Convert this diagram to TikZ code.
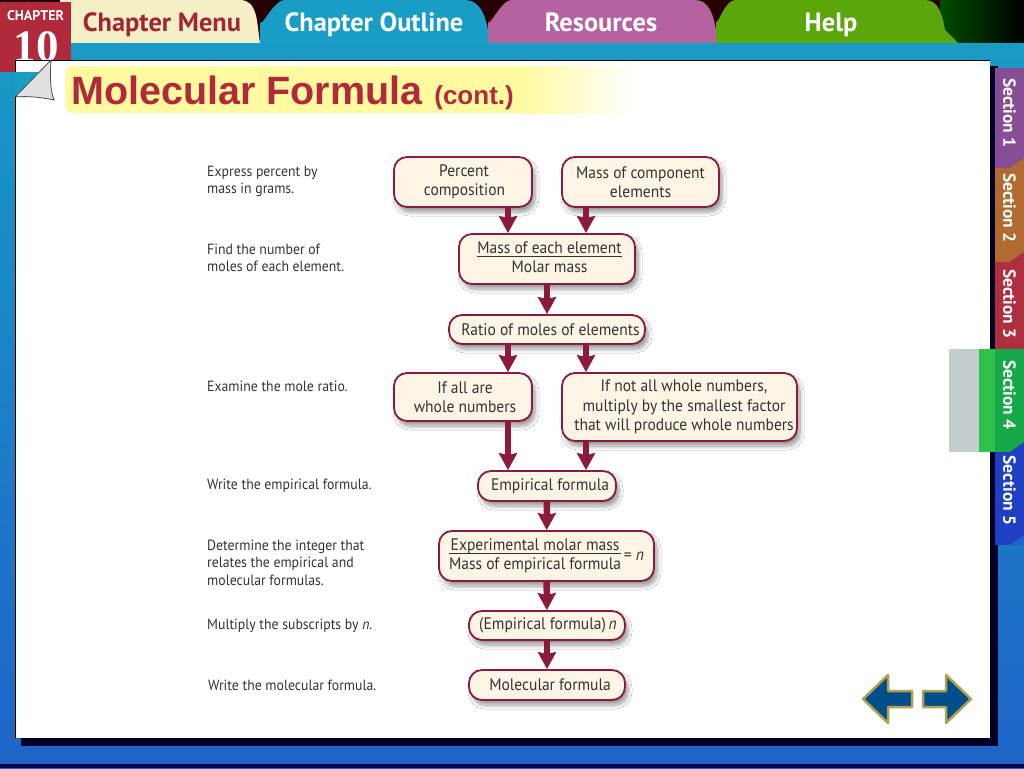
\documentclass[tikz,border=0pt]{standalone}
\usepackage{xcolor}
\usepackage{fontspec}
\setmainfont[FakeStretch=0.93]{PT Sans}
\newfontfamily\tabfont{PT Sans}
\newfontfamily\titlefont{Liberation Sans}
\newfontfamily\numfont{Liberation Serif}
\usepackage{tikz}
\usetikzlibrary{arrows.meta, positioning, shadows.blur, calc}
\definecolor{slideWine}{RGB}{140,26,60}
\definecolor{slideCream}{RGB}{252,245,230}
\definecolor{slideTitle}{RGB}{176,42,60}
\definecolor{slideTeal}{RGB}{24,158,196}
\definecolor{slideBlue}{RGB}{30,100,200}
\definecolor{slideYellow}{RGB}{255,249,160}
\definecolor{tabCream}{RGB}{245,239,197}
\definecolor{tabPurple}{RGB}{181,98,159}
\definecolor{tabGreen}{RGB}{91,166,10}
\definecolor{secPurple}{RGB}{135,78,150}
\definecolor{secOrange}{RGB}{176,106,50}
\definecolor{secRed}{RGB}{174,48,64}
\definecolor{secGreen}{RGB}{23,168,74}
\definecolor{secLight}{RGB}{50,190,75}
\definecolor{secBlue}{RGB}{32,64,196}
\definecolor{secGrey}{RGB}{194,206,208}
\definecolor{navBlue}{RGB}{0,78,138}
\definecolor{navGold}{RGB}{176,160,80}
\begin{document}
\begin{tikzpicture}[x=1pt, y=-1pt,
    flowbox/.style={rectangle, draw=slideWine, line width=1.8pt, fill=slideCream,
        rounded corners=13pt, align=center, inner sep=0pt,
        font=\fontsize{16.7}{19.5}\selectfont, text=black!80,
        blur shadow={shadow xshift=3pt, shadow yshift=-5pt, shadow blur steps=8,
            shadow blur radius=4pt, shadow opacity=40}},
    steplbl/.style={anchor=west, align=left, inner sep=0pt,
        font=\fontsize{14.8}{17.5}\selectfont, text=black!80},
    arr/.style={-{Stealth[length=17pt, width=18pt, inset=2pt]}, line width=6.5pt, slideWine},
    tablbl/.style={anchor=base, inner sep=0pt, font=\tabfont\bfseries\fontsize{26.4}{28}\selectfont, text=white},
    sectab/.style={rectangle, rotate=-90, minimum height=29pt, inner sep=0pt,
        font=\tabfont\bfseries\fontsize{17.5}{18}\selectfont, text=white},
    navarr/.style={draw=navGold, line width=2.5pt, fill=navBlue, line join=round}
]
\useasboundingbox (0,0) rectangle (1024,768);
% frame and top band
\fill[top color=slideTeal, bottom color=slideBlue] (0,0) rectangle (1024,768);
\fill[black!85!red] (0,0) rectangle (1024,43);
\fill[left color=black!70!green, right color=black] (940,0) rectangle (1024,43);
\fill[black!70!blue] (0,764) rectangle (1024,768);
% tabs
\fill[tabCream] (60,43) -- (60,0) -- (240,0) to[out=0,in=100] (260,43) -- cycle;
\fill[slideTeal] (260,43) -- (260,20) to[out=-90,in=180] (285,0) -- (465,0) to[out=0,in=100] (488,30) -- (488,43) -- cycle;
\fill[tabPurple] (488,43) -- (488,20) to[out=-90,in=180] (512,0) -- (695,0) to[out=0,in=100] (716,30) -- (725,43) -- cycle;
\fill[tabGreen] (716,43) -- (716,20) to[out=-90,in=180] (735,0) -- (925,0) to[out=0,in=100] (945,30) -- (958,43) -- cycle;
\node[tablbl, text=slideTitle!90!black] (menu) at (162,32) {Chapter Menu};
\node[tablbl] (outline) at (374,32) {Chapter Outline};
\node[tablbl] (resources) at (601,32) {Resources};
\node[tablbl] (help) at (831,32) {Help};
% chapter badge
\fill[slideTitle] (0,2) rectangle (71,72);
\node[anchor=base, inner sep=0pt, font=\tabfont\bfseries\fontsize{14}{14}\selectfont, text=white] (chapter) at (35.5,21) {CHAPTER};
\node[anchor=base, inner sep=0pt, font=\numfont\bfseries\fontsize{45}{45}\selectfont, text=white] (chapnum) at (36,62) {10};
% white page
\fill[black!85!blue] (21,66) rectangle (998,746);
\fill[white] (15,60) rectangle (990,738);
\draw[black, line width=0.8pt] (15,738) -- (15,60) -- (990,60);
% page curl
\fill[slideTeal] (15,72) rectangle (40,97);
\filldraw[fill=black!12, draw=black!70, line width=0.8pt] (15,97) -- (51,60) .. controls (50,75) and (50,90) .. (54,100) .. controls (40,97) and (28,96) .. (15,97) -- cycle;
% title highlight
\fill[slideYellow, rounded corners=8pt] (65,66) rectangle (530,113);
\fill[left color=slideYellow, right color=white] (520,66) rectangle (634,113);
\node[anchor=base west, inner sep=0pt, text=slideTitle, font=\titlefont\bfseries\fontsize{39.5}{40}\selectfont] (title) at (71,104)
    {Molecular Formula\hspace{12pt}{\fontsize{26}{26}\selectfont(cont.)}};
% section tabs
\fill[secLight] (979,349) rectangle (996,452);
\fill[secGrey] (949,349) rectangle (979,452);
\node[sectab, fill=secPurple, minimum width=100pt] (sec1) at (1009.5,118) {Section 1\hspace*{10pt}};
\node[sectab, fill=secOrange, minimum width=94pt] (sec2) at (1009.5,215) {Section 2\hspace*{14pt}};
\node[sectab, fill=secRed, minimum width=87pt] (sec3) at (1009.5,305.5) {Section 3\hspace*{3pt}};
\node[sectab, fill=secGreen, minimum width=103pt] (sec4) at (1009.5,400.5) {Section 4\hspace*{11pt}};
\node[sectab, fill=secBlue, minimum width=93pt] (sec5) at (1009.5,498.5) {Section 5\hspace*{16pt}};
\foreach \ybot/\col in {168/secOrange, 262/secRed, 452/secBlue, 545/slideBlue}
    \fill[\col] (1024,\ybot-10) -- (1024,\ybot) -- (1010,\ybot) -- cycle;
% flow boxes
\node[flowbox, minimum width=138pt, minimum height=50pt] (percent) at (463,182) {\hspace*{2pt}Percent\\\hspace*{3pt}composition};
\node[flowbox, minimum width=157pt, minimum height=50pt] (component) at (640.5,182) {Mass of component\\elements};
\node[flowbox, minimum width=176pt, minimum height=50pt] (each) at (547,259)
    {\hspace*{5pt}\begin{tabular}{@{}c@{}}Mass of each element\\[-3pt]\hline\rule{0pt}{16pt}Molar mass\end{tabular}};
\node[flowbox, minimum width=196pt, minimum height=29pt] (ratio) at (547,329.5) {\hspace*{7pt}Ratio of moles of elements};
\node[flowbox, minimum width=138pt, minimum height=48pt] (allwhole) at (463,397) {\hspace*{4pt}If all are\\\hspace*{4pt}whole numbers};
\node[flowbox, minimum width=235pt, minimum height=68pt] (notwhole) at (679.5,407)
    {\hspace*{9pt}If not all whole numbers,\\\hspace*{9pt}multiply by the smallest factor\\\hspace*{9pt}that will produce whole numbers};
\node[flowbox, minimum width=138pt, minimum height=30pt] (empirical) at (547,486) {\hspace*{6pt}Empirical formula};
\node[flowbox, minimum width=215pt, minimum height=50pt] (experimental) at (546.5,556)
    {\begin{tabular}{@{}c@{}}Experimental molar mass\\[-3pt]\hline\rule{0pt}{16pt}Mass of empirical formula\end{tabular}\,= \textit{n}};
\node[flowbox, minimum width=156pt, minimum height=29pt] (times) at (547,625.5) {\hspace*{2pt}(Empirical formula)\,\textit{n}};
\node[flowbox, minimum width=156pt, minimum height=30pt] (molecular) at (547,685) {\hspace*{6pt}Molecular formula};
% connectors
\coordinate (lane1) at (508,0);
\coordinate (lane2) at (586,0);
\draw[arr] (lane1 |- percent.south) -- (lane1 |- each.north);
\draw[arr] (lane2 |- component.south) -- (lane2 |- each.north);
\draw[arr] (each) -- (ratio);
\draw[arr] (lane1 |- ratio.south) -- (lane1 |- allwhole.north);
\draw[arr] (lane2 |- ratio.south) -- (lane2 |- notwhole.north);
\draw[arr] (lane1 |- allwhole.south) -- (lane1 |- empirical.north);
\draw[arr] (lane2 |- notwhole.south) -- (lane2 |- empirical.north);
\draw[arr] (empirical) -- (experimental);
\draw[arr] (experimental) -- (times);
\draw[arr] (times) -- (molecular);
% step labels
\node[steplbl] (lbl1) at (207,181.5) {Express percent by\\mass in grams.};
\node[steplbl] (lbl2) at (207,258) {Find the number of\\moles of each element.};
\node[steplbl] (lbl3) at (207,386) {Examine the mole ratio.};
\node[steplbl] (lbl4) at (207,486) {Write the empirical formula.};
\node[steplbl] (lbl5) at (207,562.5) {Determine the integer that\\relates the empirical and\\molecular formulas.};
\node[steplbl] (lbl6) at (207,626) {Multiply the subscripts by \textit{n}.};
\node[steplbl] (lbl7) at (208,685) {Write the molecular formula.};
% nav arrows
\draw[navarr] (863,699) -- (888,675) -- (888,691) -- (912,691) -- (912,707) -- (888,707) -- (888,723) -- cycle;
\draw[navarr] (971,699) -- (946,675) -- (946,691) -- (923,691) -- (923,707) -- (946,707) -- (946,723) -- cycle;
\end{tikzpicture}
\end{document}
